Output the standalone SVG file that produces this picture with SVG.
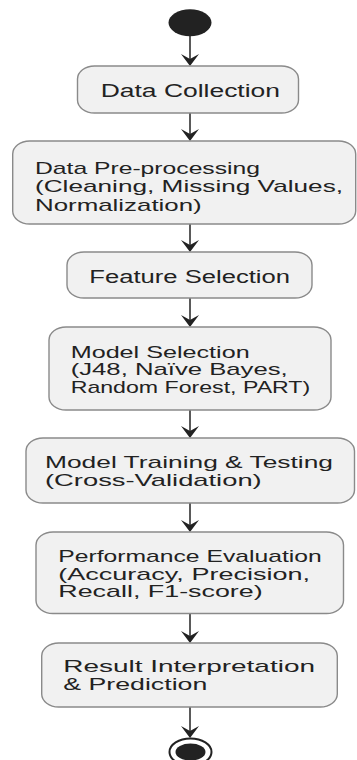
<svg xmlns="http://www.w3.org/2000/svg" width="357" height="760" viewBox="0 0 357 760">
<style>
.bg{fill:#ffffff}
.box{fill:#f1f1f1;stroke:#8a8a8a;stroke-width:1.4}
.t{font-family:"Liberation Sans",Arial,sans-serif;font-size:17px;fill:#222222}
.big{font-size:17.5px}
.ln{stroke:#5a5a5a;stroke-width:2;fill:none}
.ah{fill:#222222}
</style>
<rect class="bg" x="0" y="0" width="357" height="760"/>
<g id="connectors">
<line class="ln" x1="190" y1="36" x2="190" y2="62"/><polygon class="ah" points="181,54 190,66 199,54 190,59"/>
<line class="ln" x1="190" y1="113" x2="190" y2="137"/><polygon class="ah" points="181,129 190,141 199,129 190,134"/>
<line class="ln" x1="190" y1="224" x2="190" y2="248"/><polygon class="ah" points="181,240 190,252 199,240 190,245"/>
<line class="ln" x1="190" y1="298" x2="190" y2="323"/><polygon class="ah" points="181,315 190,327 199,315 190,320"/>
<line class="ln" x1="190" y1="410" x2="190" y2="434"/><polygon class="ah" points="181,426 190,438 199,426 190,431"/>
<line class="ln" x1="190" y1="503" x2="190" y2="528"/><polygon class="ah" points="181,520 190,532 199,520 190,525"/>
<line class="ln" x1="190" y1="613" x2="190" y2="639"/><polygon class="ah" points="181,631 190,643 199,631 190,636"/>
<line class="ln" x1="190" y1="707" x2="190" y2="734"/><polygon class="ah" points="181,726 190,738 199,726 190,731"/>
</g>
<g id="start"><ellipse cx="190" cy="22.7" rx="21.5" ry="13.5" fill="#222222"/></g>
<g id="n1">
<rect class="box" x="77.5" y="66" width="221" height="47" rx="17" ry="13"/>
<text class="t big" x="100.7" y="96.7" textLength="179.3" lengthAdjust="spacingAndGlyphs">Data Collection</text>
</g>
<g id="n2">
<rect class="box" x="12.7" y="141" width="343" height="83" rx="17" ry="13"/>
<text class="t" x="35" y="174" textLength="225" lengthAdjust="spacingAndGlyphs">Data Pre-processing</text>
<text class="t" x="35" y="192" textLength="308" lengthAdjust="spacingAndGlyphs">(Cleaning, Missing Values,</text>
<text class="t" x="35" y="210.5" textLength="166.7" lengthAdjust="spacingAndGlyphs">Normalization)</text>
</g>
<g id="n3">
<rect class="box" x="67" y="252" width="245" height="46" rx="17" ry="13"/>
<text class="t big" x="89.3" y="282.7" textLength="200.7" lengthAdjust="spacingAndGlyphs">Feature Selection</text>
</g>
<g id="n4">
<rect class="box" x="49" y="327" width="282" height="83" rx="17" ry="13"/>
<text class="t" x="70.7" y="357.5" textLength="179" lengthAdjust="spacingAndGlyphs">Model Selection</text>
<text class="t" x="70.7" y="375" textLength="217" lengthAdjust="spacingAndGlyphs">(J48, Naïve Bayes,</text>
<text class="t" x="70.7" y="392.7" textLength="239.5" lengthAdjust="spacingAndGlyphs">Random Forest, PART)</text>
</g>
<g id="n5">
<rect class="box" x="26" y="438" width="328.5" height="65" rx="17" ry="13"/>
<text class="t" x="45" y="467.7" textLength="288" lengthAdjust="spacingAndGlyphs">Model Training &amp; Testing</text>
<text class="t" x="45" y="486" textLength="216.7" lengthAdjust="spacingAndGlyphs">(Cross-Validation)</text>
</g>
<g id="n6">
<rect class="box" x="36" y="532" width="307.5" height="81.5" rx="17" ry="13"/>
<text class="t" x="58.3" y="561.7" textLength="263.4" lengthAdjust="spacingAndGlyphs">Performance Evaluation</text>
<text class="t" x="58.3" y="580" textLength="251.7" lengthAdjust="spacingAndGlyphs">(Accuracy, Precision,</text>
<text class="t" x="58.3" y="597.3" textLength="204.4" lengthAdjust="spacingAndGlyphs">Recall, F1-score)</text>
</g>
<g id="n7">
<rect class="box" x="41.7" y="643" width="295.6" height="64" rx="17" ry="13"/>
<text class="t" x="63.3" y="672.3" textLength="251.7" lengthAdjust="spacingAndGlyphs">Result Interpretation</text>
<text class="t" x="63.3" y="690" textLength="144" lengthAdjust="spacingAndGlyphs">&amp; Prediction</text>
</g>
<g id="end">
<ellipse cx="190.5" cy="752" rx="21" ry="13.5" fill="#ffffff" stroke="#222222" stroke-width="2"/>
<ellipse cx="190.5" cy="752" rx="15" ry="8.5" fill="#222222"/>
</g>
</svg>
